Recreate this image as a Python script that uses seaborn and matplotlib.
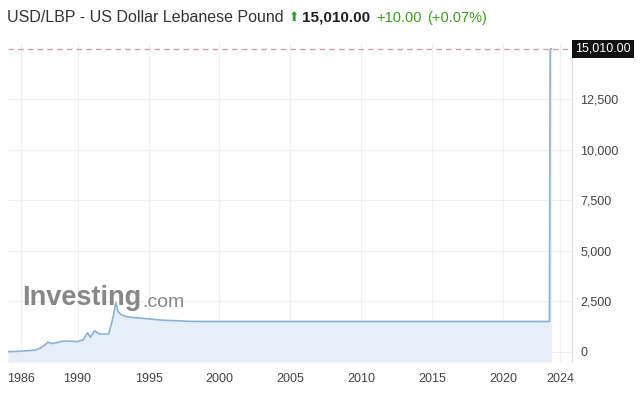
import numpy as np
import pandas as pd
import matplotlib
matplotlib.use("Agg")
import matplotlib.pyplot as plt
import seaborn as sns

# USD/LBP rate (decimal years)
years = [1985.1, 1985.5, 1986.0, 1986.5, 1987.0, 1987.4, 1987.7, 1987.9,
         1988.2, 1988.5, 1988.9, 1989.3, 1989.7, 1990.0, 1990.4, 1990.7,
         1990.9, 1991.2, 1991.5, 1991.9, 1992.2, 1992.5, 1992.7, 1992.85,
         1993.1, 1993.5, 1994.0, 1995.0, 1996.0, 1997.0, 1998.0, 1999.0,
         2005.0, 2010.0, 2015.0, 2020.0, 2023.25, 2023.3, 2023.4]
rates = [18, 20, 40, 60, 90, 200, 350, 480,
         420, 450, 530, 540, 520, 510, 600, 950,
         720, 1050, 900, 880, 900, 1700, 2450, 2000,
         1830, 1740, 1700, 1640, 1570, 1545, 1512, 1507.5,
         1507.5, 1507.5, 1507.5, 1507.5, 1507.5, 15000, 15010]

x_ticks = [1986, 1990, 1995, 2000, 2005, 2010, 2015, 2020, 2024]
y_ticks = [0, 2500, 5000, 7500, 10000, 12500]
last_price = 15010.00

df = pd.DataFrame({"year": years, "rate": rates})

sns.set_theme(style="white")
plt.rcParams["font.family"] = ["Liberation Sans", "DejaVu Sans"]

fig = plt.figure(figsize=(6.4, 4.09), dpi=100)
ax = fig.add_axes([0.0125, 0.115, 0.8815, 0.78])

ymin, ymax = -497, 15300
ax.fill_between(df["year"], df["rate"], ymin, color="#e6eef8", lw=0)
sns.lineplot(data=df, x="year", y="rate", ax=ax, color="#8db1d4", lw=1.2)

ax.axhline(last_price, color="#c9a0a4", lw=1, ls=(0, (4, 3)))

ax.set_xlim(1985.1, 2024.85)
ax.set_ylim(ymin, ymax)

ax.set_xticks(x_ticks)
ax.set_yticks(y_ticks)
ax.set_yticklabels([f"{v:,}" for v in y_ticks])
ax.yaxis.tick_right()
ax.tick_params(axis="both", length=0, labelsize=9, labelcolor="#444444")
ax.tick_params(axis="y", pad=6)
ax.tick_params(axis="x", pad=8)
ax.set_xlabel("")
ax.set_ylabel("")
ax.grid(True, color="#f0f0f0", lw=0.8)
for side in ["left", "top", "bottom"]:
    ax.spines[side].set_visible(False)
ax.spines["right"].set_color("#dddddd")
ax.spines["right"].set_linewidth(0.8)

# price box on the right axis
ax.text(1.006, last_price, f"{last_price:,.2f}",
        transform=ax.get_yaxis_transform(), ha="left", va="center",
        color="white", fontsize=9,
        bbox=dict(boxstyle="square,pad=0.25", fc="#111111", ec="none"))

# watermark
wm = ax.text(0.025, 0.18, "Investing", transform=ax.transAxes,
             fontsize=19.5, fontweight="bold", color="#7a7a7a", alpha=0.9)
ax.annotate(".com", xy=(1, 0), xycoords=wm, xytext=(1, 0),
            textcoords="offset points", va="bottom", ha="left",
            fontsize=14, color="#7a7a7a", alpha=0.9)

# header line
t1 = fig.text(0.011, 0.957, "USD/LBP - US Dollar Lebanese Pound",
              fontsize=11.5, color="#333333", va="center")
t2 = plt.annotate("\u2b06", xy=(1, 0.5), xycoords=t1, xytext=(4, 0),
                  textcoords="offset points", va="center", ha="left",
                  fontsize=9, color="#2f9e2f", family=["DejaVu Sans"],
                  annotation_clip=False)
t3 = plt.annotate(f"{last_price:,.2f}", xy=(1, 0.5), xycoords=t2,
                  xytext=(2, 0), textcoords="offset points", va="center",
                  ha="left", fontsize=11, fontweight="bold",
                  color="#222222", annotation_clip=False)
t4 = plt.annotate("+10.00", xy=(1, 0.5), xycoords=t3, xytext=(4, 0),
                  textcoords="offset points", va="center", ha="left",
                  fontsize=10.5, color="#3d9d1e", annotation_clip=False)
plt.annotate("(+0.07%)", xy=(1, 0.5), xycoords=t4, xytext=(4, 0),
             textcoords="offset points", va="center", ha="left",
             fontsize=10.5, color="#3d9d1e", annotation_clip=False)

fig.savefig("out.png", dpi=100)
